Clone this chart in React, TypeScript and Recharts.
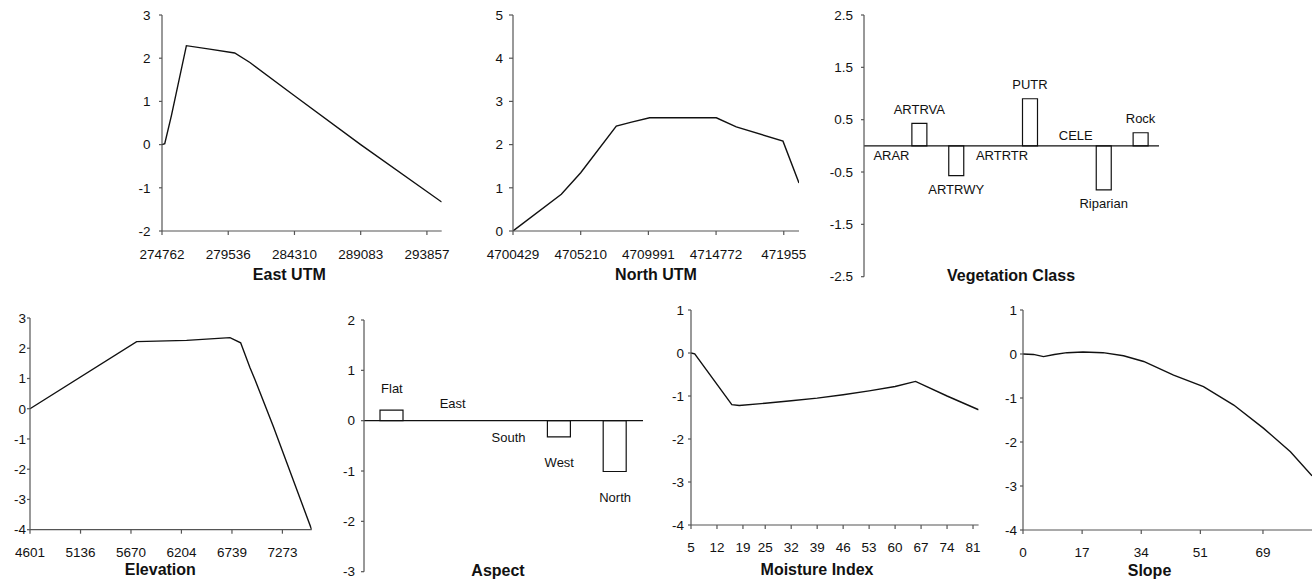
import { LineChart, Line, XAxis, YAxis, BarChart, Bar, ReferenceLine, ReferenceDot } from 'recharts';

const FONT = '"Liberation Sans", Arial, Helvetica, sans-serif';
const AXIS = '#555';
const INK = '#111';

// East UTM
const eastX = [274762, 274960, 275440, 276520, 278200, 280000, 281100, 284310, 289083, 294922];
const eastY = [0, 0.02, 0.67, 2.29, 2.21, 2.12, 1.9, 1.13, 0.0, -1.33];
const eastTicks = [274762, 279536, 284310, 289083, 293857];

// North UTM
const northX = [4700429, 4703842, 4705210, 4707725, 4708800, 4710081, 4714789, 4716199, 4719497, 4720629];
const northY = [0, 0.85, 1.35, 2.43, 2.52, 2.62, 2.62, 2.41, 2.08, 1.11];
const northTicks = [4700429, 4705210, 4709991, 4714772, 4719553];
const northTickLabels = ['4700429', '4705210', '4709991', '4714772', '471955'];

// Vegetation class
const vegClasses = ['ARAR', 'ARTRVA', 'ARTRWY', 'ARTRTR', 'PUTR', 'CELE', 'Riparian', 'Rock'];
const vegValues = [0, 0.43, -0.57, 0, 0.9, 0, -0.84, 0.25];
const vegTicks = [-2.5, -1.5, -0.5, 0.5, 1.5, 2.5];

// Elevation
const elevX = [4601, 5730, 6259, 6718, 6831, 6929, 6982, 7176, 7583];
const elevY = [0, 2.22, 2.26, 2.35, 2.18, 1.36, 0.97, -0.58, -4];
const elevTicks = [4601, 5136, 5670, 6204, 6739, 7273];

// Aspect
const aspectClasses = ['Flat', 'East', 'South', 'West', 'North'];
const aspectValues = [0.21, 0, 0, -0.32, -1.01];

// Moisture index
const moistX = [5, 6, 16, 18, 25, 32, 39, 46, 53, 60, 65.5, 74, 82.5];
const moistY = [0, -0.02, -1.2, -1.22, -1.17, -1.11, -1.05, -0.97, -0.88, -0.78, -0.66, -1.0, -1.32];
const moistTicks = [5, 12, 19, 25, 32, 39, 46, 53, 60, 67, 74, 81];

// Slope
const slopeX = [0, 3, 5.9, 9, 12.65, 17.25, 23, 28.9, 34.7, 43.3, 51.9, 60.6, 69.2, 76.9, 83.1];
const slopeY = [0, -0.01, -0.06, -0.01, 0.03, 0.045, 0.03, -0.04, -0.17, -0.48, -0.74, -1.16, -1.69, -2.22, -2.77];
const slopeTicks = [0, 17, 34, 51, 69];

const zip = (xs: number[], ys: number[]) => xs.map((x, i) => ({ x, y: ys[i] }));
const range = (a: number, b: number) => Array.from({ length: b - a + 1 }, (_, i) => a + i);

const PAD_L = 45, PAD_T = 10, PAD_R = 35, PAD_B = 45;

type Box = { x0: number; y0: number; x1: number; y1: number };

function frame(b: Box) {
  return {
    position: 'absolute' as const,
    left: b.x0 - PAD_L,
    top: b.y0 - PAD_T,
    width: b.x1 - b.x0 + PAD_L + PAD_R,
    height: b.y1 - b.y0 + PAD_T + PAD_B,
  };
}

const axisLine = { stroke: AXIS, strokeWidth: 1.2 };
const tickStyle = { fontSize: 13.5, fill: INK, fontFamily: FONT };

function Title({ text, x, y }: { text: string; x: number; y: number }) {
  return (
    <div style={{
      position: 'absolute', left: x, top: y, transform: 'translate(-50%, -50%)',
      fontFamily: FONT, fontWeight: 700, fontSize: 16, color: INK, whiteSpace: 'nowrap',
    }}>{text}</div>
  );
}

type LineProps = {
  box: Box; xs: number[]; ys: number[]; xDomain: [number, number]; xTicks: number[]; xLabels?: string[];
  yDomain: [number, number]; yTicks: number[]; ySize: number; yGap: number; xGap: number;
};

function LinePanel({ box, xs, ys, xDomain, xTicks, xLabels, yDomain, yTicks, ySize, yGap, xGap }: LineProps) {
  const f = frame(box);
  return (
    <div style={f}>
      <LineChart width={f.width} height={f.height} data={zip(xs, ys)}
        margin={{ top: PAD_T, right: PAD_R, bottom: 0, left: 0 }}>
        <XAxis type="number" dataKey="x" domain={xDomain} ticks={xTicks} interval={0} allowDataOverflow
          height={PAD_B} axisLine={axisLine} tickLine={axisLine} tickSize={4} tickMargin={xGap} tick={tickStyle}
          tickFormatter={(v: number) => (xLabels ? xLabels[xTicks.indexOf(v)] ?? String(v) : String(v))} />
        <YAxis type="number" domain={yDomain} ticks={yTicks} interval={0} allowDataOverflow width={PAD_L}
          axisLine={axisLine} tickLine={axisLine} tickSize={ySize} tickMargin={yGap} tick={tickStyle} />
        <Line type="linear" dataKey="y" stroke={INK} strokeWidth={1.4} dot={false} isAnimationActive={false} />
      </LineChart>
    </div>
  );
}

type Offsets = { pos: number; neg: number; zero: number; zeroDx: number; zeroAbove: string[] };

type BarProps = {
  box: Box; names: string[]; values: number[]; yDomain: [number, number]; yTicks: number[];
  yGap: number; barSize: number; off: Offsets;
};

function BarPanel({ box, names, values, yDomain, yTicks, yGap, barSize, off }: BarProps) {
  const f = frame(box);
  const data = names.map((name, i) => ({ name, value: values[i] }));
  // category name written beside the end of each bar (zero bars too)
  const labelShape = (name: string, v: number) => (p: any) => {
    const above = v > 0 || (v === 0 && off.zeroAbove.includes(name));
    const gap = v === 0 ? off.zero : above ? off.pos : off.neg;
    const cx = p.cx + (v === 0 ? off.zeroDx : 0);
    const cy = above ? p.cy - gap : p.cy + gap;
    return (
      <text x={cx} y={cy} textAnchor="middle" dominantBaseline="central"
        fontSize={13} fill={INK} fontFamily={FONT}>{name}</text>
    );
  };
  return (
    <div style={f}>
      <BarChart width={f.width} height={f.height} data={data}
        margin={{ top: PAD_T, right: PAD_R, bottom: PAD_B, left: 0 }}>
        <XAxis dataKey="name" hide />
        <YAxis type="number" domain={yDomain} ticks={yTicks} interval={0} allowDataOverflow width={PAD_L}
          axisLine={axisLine} tickLine={axisLine} tickSize={3} tickMargin={yGap} tick={tickStyle} />
        <ReferenceLine y={0} stroke={INK} strokeWidth={1.2} />
        <Bar dataKey="value" fill="#fff" stroke={INK} strokeWidth={1.2} barSize={barSize} isAnimationActive={false} />
        {data.map((d) => (
          <ReferenceDot key={d.name} x={d.name} y={d.value} r={0} ifOverflow="visible"
            shape={labelShape(d.name, d.value)} />
        ))}
      </BarChart>
    </div>
  );
}

export default function App() {
  return (
    <div style={{
      position: 'absolute', left: 0, top: 0, width: 1316, height: 582, overflow: 'hidden',
      background: '#fff', fontFamily: FONT,
    }}>
      <LinePanel box={{ x0: 162.3, y0: 15, x1: 442, y1: 231 }} xs={eastX} ys={eastY}
        xDomain={[274762, 294922]} xTicks={eastTicks} yDomain={[-2, 3]} yTicks={range(-2, 3)}
        ySize={3} yGap={8.6} xGap={14.5} />
      <Title text="East UTM" x={289.3} y={275} />

      <LinePanel box={{ x0: 513.3, y0: 15, x1: 799.3, y1: 231 }} xs={northX} ys={northY}
        xDomain={[4700429, 4720629]} xTicks={northTicks} xLabels={northTickLabels}
        yDomain={[0, 5]} yTicks={range(0, 5)} ySize={4} yGap={6} xGap={14} />
      <Title text="North UTM" x={656} y={275} />

      <BarPanel box={{ x0: 864.3, y0: 15, x1: 1159.3, y1: 276.7 }} names={vegClasses} values={vegValues}
        yDomain={[-2.5, 2.5]} yTicks={vegTicks} yGap={8} barSize={15}
        off={{ pos: 14, neg: 14, zero: 10, zeroDx: 9, zeroAbove: ['CELE'] }} />
      <Title text="Vegetation Class" x={1011} y={276} />

      <LinePanel box={{ x0: 30, y0: 318.3, x1: 311.7, y1: 530 }} xs={elevX} ys={elevY}
        xDomain={[4601, 7583]} xTicks={elevTicks} yDomain={[-4, 3]} yTicks={range(-4, 3)}
        ySize={3} yGap={1} xGap={13.3} />
      <Title text="Elevation" x={160.3} y={570} />

      <BarPanel box={{ x0: 364.3, y0: 320, x1: 643.3, y1: 571.7 }} names={aspectClasses} values={aspectValues}
        yDomain={[-3, 2]} yTicks={range(-3, 2)} yGap={6} barSize={23}
        off={{ pos: 22, neg: 26, zero: 17, zeroDx: 5, zeroAbove: ['East'] }} />
      <Title text="Aspect" x={498} y={571} />

      <LinePanel box={{ x0: 690.7, y0: 310, x1: 978.3, y1: 525 }} xs={moistX} ys={moistY}
        xDomain={[5, 82.5]} xTicks={moistTicks} yDomain={[-4, 1]} yTicks={range(-4, 1)}
        ySize={3} yGap={4} xGap={13} />
      <Title text="Moisture Index" x={817} y={570} />

      <LinePanel box={{ x0: 1022.7, y0: 310, x1: 1311.7, y1: 530 }} xs={slopeX} ys={slopeY}
        xDomain={[0, 83.1]} xTicks={slopeTicks} yDomain={[-4, 1]} yTicks={range(-4, 1)}
        ySize={3} yGap={3} xGap={13} />
      <Title text="Slope" x={1149.5} y={571} />
    </div>
  );
}
